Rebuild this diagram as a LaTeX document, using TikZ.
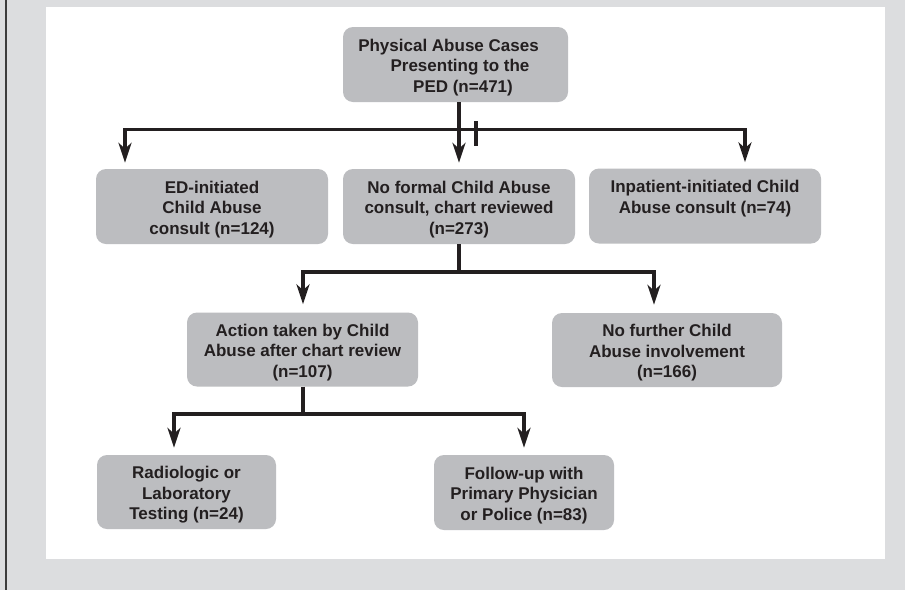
\documentclass[tikz,border=0pt]{standalone}
\usepackage{fontspec}
\setmainfont{Liberation Sans}
\usetikzlibrary{arrows.meta}
\definecolor{bg}{HTML}{DCDDDF}
\definecolor{boxgray}{HTML}{BCBDC0}
\definecolor{ink}{HTML}{231F20}
\definecolor{edgeline}{HTML}{3C3C3C}
\begin{document}
\begin{tikzpicture}[x=1pt,y=-1pt,
  box/.style={fill=boxgray, rounded corners=10pt, align=center,
    font=\bfseries\fontsize{17}{20.5}\selectfont, text=ink, inner sep=0pt,
    text height=59pt, text depth=4pt},
  twoline/.style={text height=38.5pt, text depth=24pt},
  conn/.style={draw=ink, line width=3.2pt, line cap=rect},
  stem/.style={draw=ink, line width=3.2pt},
  arr/.style={draw=ink, line width=3.2pt, -{Stealth[length=20pt,width=13pt,inset=6pt]}}]
\useasboundingbox (0,0) rectangle (905,590);
\fill[bg] (0,0) rectangle (905,590);
\fill[white] (46,7) rectangle (885,559);
\draw[edgeline, line width=2pt] (5.7,0) -- (5.7,590);

% boxes
\node[box, minimum width=225pt, minimum height=75pt] (top) at (455.5,64.5)
  {Physical Abuse Cases\hspace*{14pt}\\\hspace*{9pt}Presenting to the\\\hspace*{15pt}PED (n=471)};
\node[box, minimum width=232pt, minimum height=75pt] (ed) at (212,206.5)
  {ED-initiated\\Child Abuse\\consult (n=124)};
\node[box, minimum width=232pt, minimum height=75pt] (mid) at (459,206.5)
  {No formal Child Abuse\\consult, chart reviewed\\(n=273)};
\node[box, twoline, minimum width=232pt, minimum height=75pt] (inp) at (705,206)
  {Inpatient-initiated Child\\Abuse consult (n=74)};
\node[box, minimum width=231pt, minimum height=74pt] (act) at (302.5,349.5)
  {Action taken by Child\\Abuse after chart review\\(n=107)};
\node[box, minimum width=230pt, minimum height=74pt] (nof) at (667,350)
  {No further Child\\Abuse involvement\\(n=166)};
\node[box, minimum width=179pt, minimum height=74pt] (rad) at (186.5,492)
  {Radiologic or\\Laboratory\\Testing (n=24)};
\node[box, minimum width=180pt, minimum height=75pt] (fol) at (524,492.5)
  {Follow-up with\\Primary Physician\\or Police (n=83)};

% level 1
\coordinate (s1) at (459,102);
\coordinate (h1L) at (125,129.5);
\coordinate (h1R) at (745,129.5);
\coordinate (tickA) at (476,121);
\coordinate (tickB) at (476,146);
\draw[conn] (h1L) -- (h1R);
\draw[stem] (s1) -- (s1 |- h1L);
\draw[arr, shorten >=6pt] (s1 |- h1L) -- (s1 |- mid.north);
\draw[arr, shorten >=6pt] (h1L) -- (h1L |- ed.north);
\draw[arr, shorten >=6pt] (h1R) -- (h1R |- inp.north);
\draw[stem] (tickA) -- (tickB);

% level 2
\coordinate (h2L) at (303,272);
\coordinate (h2R) at (654,272);
\draw[conn] (h2L) -- (h2R);
\draw[stem] (mid.south) -- (mid.south |- h2L);
\draw[arr, shorten >=8pt] (h2L) -- (h2L |- act.north);
\draw[arr, shorten >=8pt] (h2R) -- (h2R |- nof.north);

% level 3
\coordinate (h3L) at (174,414);
\coordinate (h3R) at (524,414);
\draw[conn] (h3L) -- (h3R);
\draw[stem] (act.south -| h2L) -- (h2L |- h3L);
\draw[arr, shorten >=7pt] (h3L) -- (h3L |- rad.north);
\draw[arr, shorten >=7pt] (h3R) -- (h3R |- fol.north);
\end{tikzpicture}
\end{document}
